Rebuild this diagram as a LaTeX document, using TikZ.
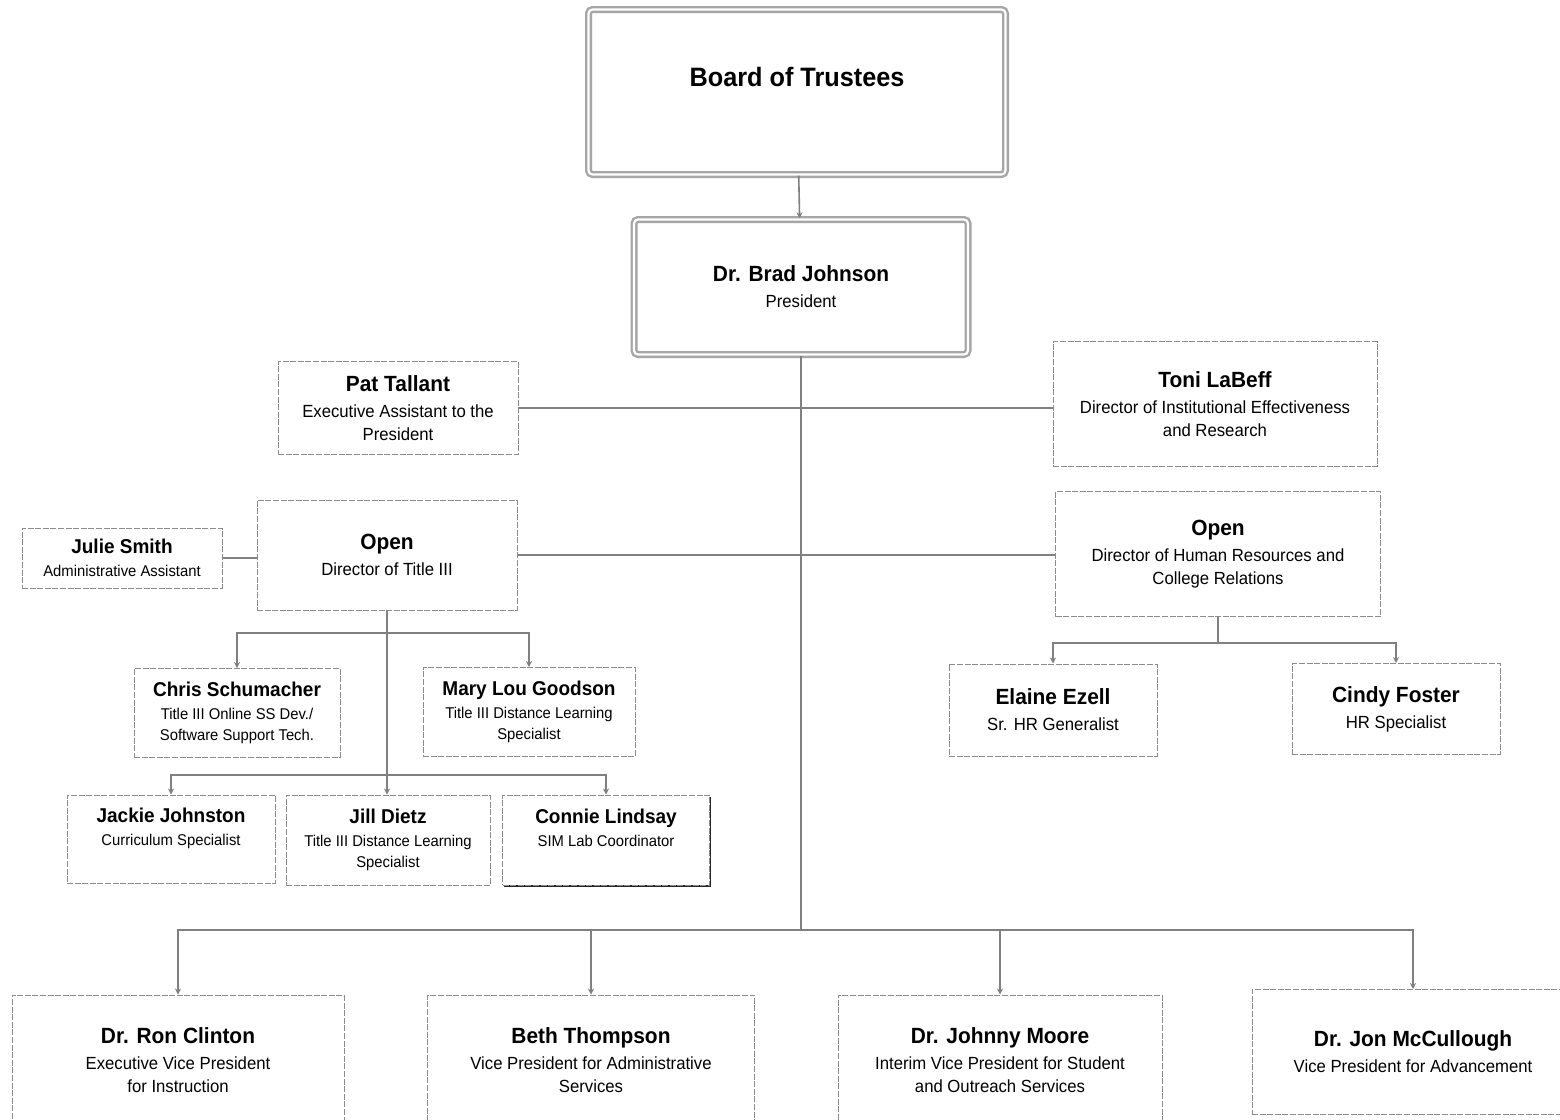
\documentclass[tikz,border=0pt]{standalone}
\usepackage{fontspec}
\setmainfont{Liberation Sans}[FakeStretch=0.95]
\usepackage{tikz}
\usetikzlibrary{arrows.meta,shadows}

\newcommand{\nm}{\fontsize{11}{12}\selectfont\bfseries}
\newcommand{\snm}{\fontsize{10}{12}\selectfont\bfseries}
\newcommand{\sm}{\fontsize{7.8}{10.5}\selectfont}

\begin{document}
\begin{tikzpicture}[x=0.5pt, y=-0.5pt,
  box/.style = {draw=black!45, dash pattern=on 3pt off 0.8pt, line width=0.5pt,
                fill=white, align=center, inner sep=2pt,
                font=\fontsize{8.8}{11.5}\selectfont},
  topbox/.style = {box, solid, draw=black!35, line width=1.2pt, double,
                   double distance=1.1pt, rounded corners=2pt},
  link/.style = {draw=black!50, line width=0.8pt},
  arr/.style = {link, -{Stealth[length=3pt,width=3pt]}}]
\useasboundingbox (0,0) rectangle (1560,1120);
\clip (0,0) rectangle (1560,1120);
\fill[white] (0,0) rectangle (1560,1120);

% top of the tree
\node[topbox, minimum width=208.5pt, minimum height=82.5pt, text depth=15pt] (board) at (797,92)
  {\fontsize{13.3}{16}\selectfont\bfseries Board of Trustees};
\node[topbox, minimum width=167pt, minimum height=67.5pt] (pres) at (801,287)
  {{\nm Dr. Brad Johnson}\\[1.5pt] President};

% staff beside the president
\node[box, minimum width=120pt, minimum height=46.5pt] (pat) at (398,408)
  {{\nm Pat Tallant}\\[1.5pt] Executive Assistant to the\\ President};
\node[box, minimum width=162pt, minimum height=62.5pt] (toni) at (1215,404)
  {{\nm Toni LaBeff}\\[1.5pt] Director of Institutional Effectiveness\\ and Research};
\node[box, minimum width=100pt, minimum height=30pt] (julie) at (122,558)
  {{\snm Julie Smith}\\[0pt] {\sm Administrative Assistant}};
\node[box, minimum width=130pt, minimum height=55pt] (t3) at (387,555)
  {{\nm Open}\\[1.5pt] Director of Title III};
\node[box, minimum width=162.5pt, minimum height=62.5pt] (hr) at (1218,554)
  {{\nm Open}\\[1.5pt] Director of Human Resources and\\ College Relations};

% Title III staff
\node[box, font=\sm, minimum width=103pt, minimum height=44.5pt] (chris) at (237,713)
  {{\snm Chris Schumacher}\\[1pt] Title III Online SS Dev./\\ Software Support Tech.};
\node[box, font=\sm, minimum width=106pt, minimum height=44.5pt] (mary) at (529,712)
  {{\snm Mary Lou Goodson}\\[1pt] Title III Distance Learning\\ Specialist};
\node[box, font=\sm, minimum width=104pt, minimum height=44pt] (jackie) at (171,839)
  {{\snm Jackie Johnston}\\[1pt] Curriculum Specialist\\ \phantom{Specialist}};
\node[box, font=\sm, minimum width=102pt, minimum height=45pt] (jill) at (388,840)
  {{\snm Jill Dietz}\\[1pt] Title III Distance Learning\\ Specialist};
\node[box, font=\sm, minimum width=103.5pt, minimum height=45pt,
      drop shadow={shadow xshift=0.9pt, shadow yshift=-0.9pt, fill=black!85, opacity=1}] (connie) at (606,840)
  {{\snm Connie Lindsay}\\[1pt] SIM Lab Coordinator\\ \phantom{Specialist}};

% HR staff
\node[box, minimum width=104pt, minimum height=46pt] (elaine) at (1053,710)
  {{\nm Elaine Ezell}\\[1.5pt] Sr. HR Generalist};
\node[box, minimum width=104pt, minimum height=45.5pt] (cindy) at (1396,709)
  {{\nm Cindy Foster}\\[1.5pt] HR Specialist};

% vice presidents
\node[box, minimum width=166pt, minimum height=65pt] (ron) at (178,1060)
  {{\nm Dr. Ron Clinton}\\[1.5pt] Executive Vice President\\ for Instruction};
\node[box, minimum width=163.5pt, minimum height=65pt] (beth) at (591,1060)
  {{\nm Beth Thompson}\\[1.5pt] Vice President for Administrative\\ Services};
\node[box, minimum width=162pt, minimum height=65pt] (johnny) at (1000,1060)
  {{\nm Dr. Johnny Moore}\\[1.5pt] Interim Vice President for Student\\ and Outreach Services};
\node[box, minimum width=161pt, minimum height=62.5pt] (jon) at (1413,1052)
  {{\nm Dr. Jon McCullough}\\[1.5pt] Vice President for Advancement};

\coordinate (vpbus) at (801,930);
\coordinate (t3a) at (387,633);
\coordinate (t3b) at (387,775);
\coordinate (hra) at (1218,643);

% connectors
\draw[arr] (board) -- (pres);
\draw[link] (pat.east) -- (pat.east -| toni.west);
\draw[link] (julie.east) -- (julie.east -| t3.west);
\draw[link] (t3.east) -- (t3.east -| hr.west);
\draw[link] (pres.south) -- (vpbus);
\draw[arr] (vpbus) -| (ron);
\draw[arr] (vpbus) -| (beth);
\draw[arr] (vpbus) -| (johnny);
\draw[arr] (vpbus) -| (jon);
\draw[arr] (t3.south) -- (t3.south |- jill.north);
\draw[arr] (t3a) -| (chris);
\draw[arr] (t3a) -| (mary);
\draw[arr] (t3b) -| (jackie);
\draw[arr] (t3b) -| (connie);
\draw[link] (hr.south) -- (hra);
\draw[arr] (hra) -| (elaine);
\draw[arr] (hra) -| (cindy);
\end{tikzpicture}
\end{document}
